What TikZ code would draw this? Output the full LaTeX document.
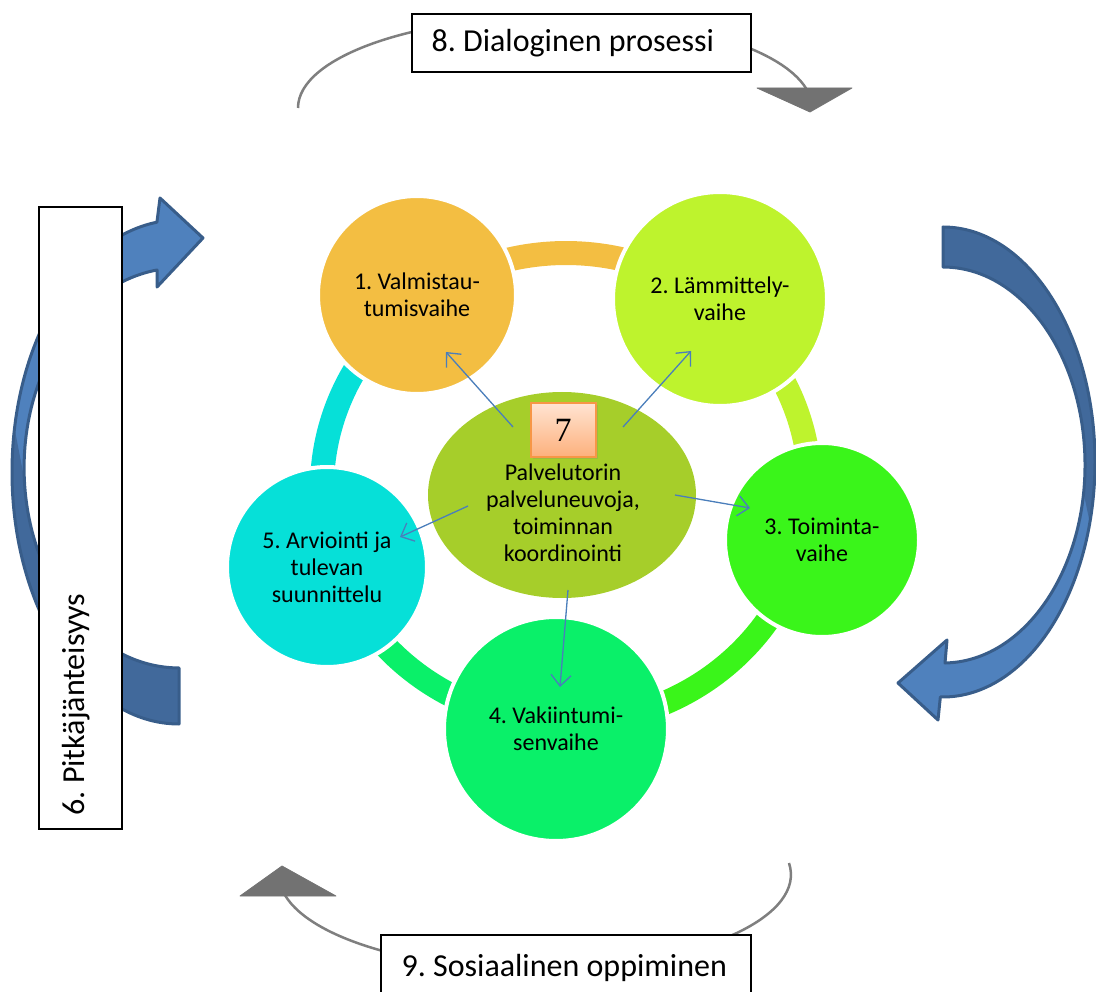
\documentclass[tikz,border=0pt]{standalone}
\usepackage{fontspec}
\setmainfont{Carlito}
\newfontfamily\sevenfont{Liberation Serif}
\usetikzlibrary{arrows.meta,shapes.geometric,shadows}
\frenchspacing

\definecolor{phaseA}{HTML}{F3BE42}
\definecolor{phaseB}{HTML}{BEF32D}
\definecolor{phaseC}{HTML}{3AF51A}
\definecolor{phaseD}{HTML}{0AF069}
\definecolor{phaseE}{HTML}{06E0D8}
\definecolor{hubgreen}{HTML}{A6CE2A}
\definecolor{spokeblue}{HTML}{4A7EBB}
\definecolor{bendlight}{HTML}{4F81BD}
\definecolor{benddark}{HTML}{41699B}
\definecolor{bendline}{HTML}{385D8A}
\definecolor{loopgray}{HTML}{7F7F7F}
\definecolor{sevenline}{HTML}{F79646}
\definecolor{seventop}{HTML}{FFE4D2}
\definecolor{sevenbottom}{HTML}{FDB07C}

\newcommand{\phasefont}{\fontsize{24}{27}\selectfont}
\newcommand{\tagfont}{\fontsize{32}{38}\selectfont}

\tikzset{
  phasecircle/.style={circle, fill=#1, draw=white, line width=4pt,
                      align=center, font=\phasefont},
  ring/.style={line width=24pt},
  spoke/.style={draw=spokeblue, line width=1.3pt,
                -{Straight Barb[length=11pt,width=20pt]}},
  tagbox/.style={draw=black, line width=1.2pt, fill=white},
  tagtext/.style={font=\tagfont, inner sep=0pt},
  loopline/.style={draw=loopgray, line width=2.5pt},
  looptip/.style={fill=loopgray!90!black, draw=loopgray!90!black,
                  line width=0.8pt, line join=round},
  bendarrow/.style={draw=bendline, line width=3pt, line join=round, fill=bendlight},
}

\begin{document}
\begin{tikzpicture}[x=1pt, y=1pt]
        \useasboundingbox (0,0) rectangle (1096,-992);

        % grey loops
        \draw[loopline] (298,-108) arc[start angle=180, end angle=12, x radius=257, y radius=91.5];
        \filldraw[looptip] (757,-88) -- (852,-88) -- (810,-112) -- cycle;
        \draw[loopline] (789,-863) arc[start angle=7, end angle=-168, x radius=256, y radius=95];
        \filldraw[looptip] (240,-896) -- (336,-896) -- (282,-866) -- cycle;

        % blue bend arrow left
        \filldraw[bendarrow, path picture={
            \fill[benddark] (179,-724) arc[start angle=270, end angle=170, x radius=167, y radius=252]
                -- (38.5,-552.5) arc[start angle=205, end angle=270, x radius=155, y radius=200] -- cycle;}]
            (179,-724) arc[start angle=270, end angle=97.6, x radius=167, y radius=252]
            -- (160,-198) -- (203,-238) -- (157,-287) -- (157,-270)
            arc[start angle=98.2, end angle=270, x radius=155, y radius=200] -- cycle;

        % blue bend arrow right
        \filldraw[bendarrow, path picture={
            \fill[benddark] (943,-227) arc[start angle=90, end angle=-15, x radius=152, y radius=235]
                -- (1083.6,-492.6) arc[start angle=-8, end angle=90, x radius=142, y radius=198] -- cycle;}]
            (943,-227) arc[start angle=90, end angle=-91, x radius=152, y radius=235]
            -- (938,-720) -- (898,-683) -- (947,-640) -- (945,-663)
            arc[start angle=-89.2, end angle=90, x radius=142, y radius=198] -- cycle;

        % label boxes
        \node[tagbox, minimum width=339pt, minimum height=58pt] (dialog) at (581.5,-43) {};
        \node[tagtext, anchor=west] at ([xshift=20]dialog.west) {8. Dialoginen prosessi};
        \node[tagbox, minimum width=370pt, minimum height=65pt] (social) at (566,-967.5) {};
        \node[tagtext, anchor=west] at ([xshift=21]social.west) {9. Sosiaalinen oppiminen};
        \node[tagbox, minimum width=83pt, minimum height=622pt] (longterm) at (80.5,-518) {};
        \node[tagtext, rotate=90, anchor=base west] at ([shift={(3.5,14)}]longterm.south) {6. Pitkäjänteisyys};

        % ring
        \foreach \from/\to/\col in {126.6/51.9/phaseA, 51.9/-11.9/phaseB, -11.9/-92.3/phaseC,
                                    -92.3/-161.1/phaseD, 198.9/126.6/phaseE}
            \draw[ring, \col] (566,-488) ++(\from:244 and 235)
                arc[start angle=\from, end angle=\to, x radius=244, y radius=235];

        % phases
        \node[phasecircle=phaseA, minimum size=198pt] (prep) at (417,-295) {1. Valmistau-\\tumisvaihe};
        \node[phasecircle=phaseB, minimum size=214pt] (warmup) at (720,-299) {2. Lämmittely-\\vaihe};
        \node[phasecircle=phaseC, minimum size=194pt] (action) at (822,-540) {3. Toiminta-\\vaihe};
        \node[phasecircle=phaseD, minimum size=224pt] (settle) at (556,-729) {4. Vakiintumi-\\senvaihe};
        \node[phasecircle=phaseE, minimum size=200pt] (review) at (327,-567) {5. Arviointi ja\\tulevan\\suunnittelu};

        % hub
        \node[ellipse, fill=hubgreen, minimum width=268pt, minimum height=206pt] (hub) at (562,-495) {};
        \node[align=center, font=\phasefont] (hubtext) at (563,-513)
            {Palvelutorin\\palveluneuvoja,\\toiminnan\\koordinointi};

        % spokes
        \draw[spoke] ([shift={(-49,68)}]hub.center) -- ([shift={(29,-57)}]prep.center);
        \draw[spoke] ([shift={(61,68)}]hub.center) -- ([shift={(-29,-52)}]warmup.center);
        \draw[spoke] ([shift={(113,0)}]hub.center) -- ([shift={(-72,32)}]action.center);
        \draw[spoke] ([shift={(6,-95)}]hub.center) -- ([shift={(4,42)}]settle.center);
        \draw[spoke] ([shift={(-94,-11)}]hub.center) -- ([shift={(73,30)}]review.center);

        % box 7
        \node[draw=sevenline, line width=2pt, top color=seventop, bottom color=sevenbottom,
              minimum width=65pt, minimum height=54pt,
              drop shadow={opacity=0.25, shadow xshift=2pt, shadow yshift=-2pt},
              font=\sevenfont\fontsize{34}{34}\selectfont] (seven) at (563,-430) {7};
\end{tikzpicture}
\end{document}
